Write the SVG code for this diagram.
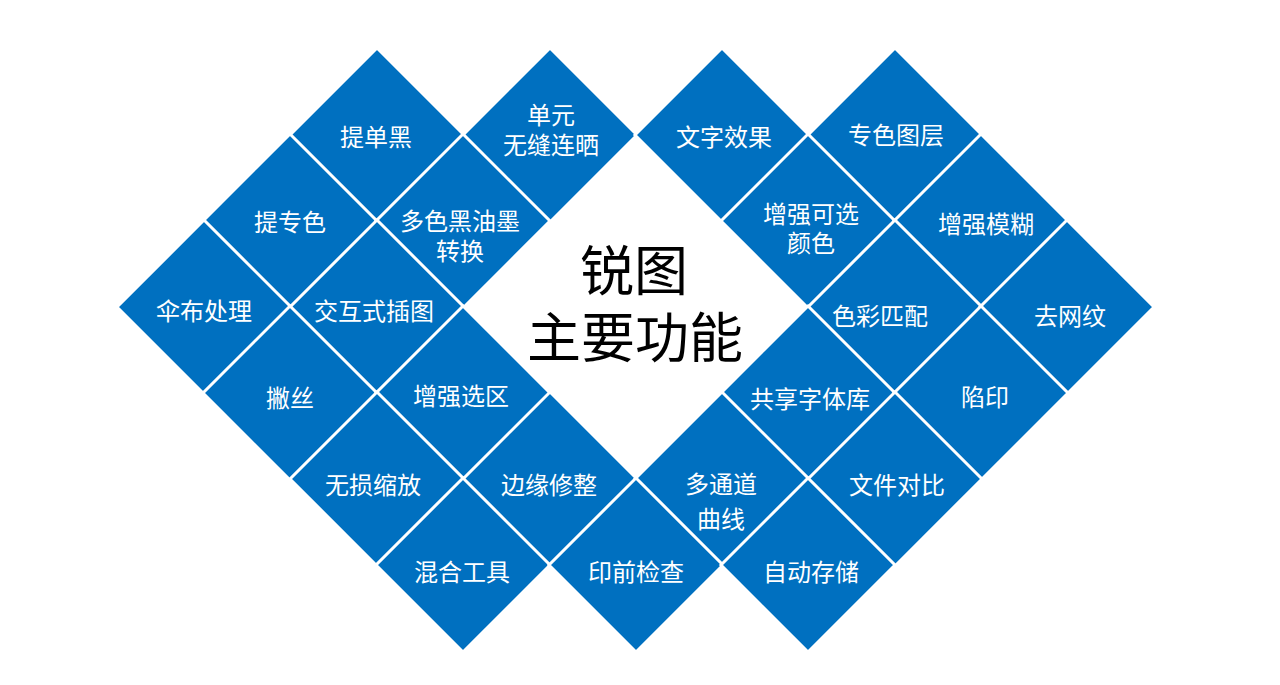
<svg xmlns="http://www.w3.org/2000/svg" width="1280" height="685" viewBox="0 0 1280 685">
<defs>
<style>
.d{fill:#0070C0;stroke:#FFFFFF;stroke-width:3;stroke-linejoin:miter}
.t{font-family:"Noto Sans CJK SC","Microsoft YaHei",sans-serif;font-size:24px;fill:#FFFFFF;text-anchor:middle;dominant-baseline:central}
.title{font-family:"Noto Sans CJK SC",sans-serif;font-size:54px;fill:#000000;text-anchor:middle;dominant-baseline:central}
</style>
<polygon id="dia" points="0,-87 87,0 0,87 -87,0"/>
</defs>
<rect width="1280" height="685" fill="#FFFFFF"/>
<g id="connectors"/>
<g id="n1" transform="translate(377,135)"><use href="#dia" class="d"/></g>
<g id="n2" transform="translate(550,135)"><use href="#dia" class="d"/></g>
<g id="n3" transform="translate(722,135)"><use href="#dia" class="d"/></g>
<g id="n4" transform="translate(895,135)"><use href="#dia" class="d"/></g>
<g id="n5" transform="translate(290,221)"><use href="#dia" class="d"/></g>
<g id="n6" transform="translate(463,221)"><use href="#dia" class="d"/></g>
<g id="n7" transform="translate(808,221)"><use href="#dia" class="d"/></g>
<g id="n8" transform="translate(981,221)"><use href="#dia" class="d"/></g>
<g id="n9" transform="translate(204,307)"><use href="#dia" class="d"/></g>
<g id="n10" transform="translate(377,307)"><use href="#dia" class="d"/></g>
<g id="n11" transform="translate(895,307)"><use href="#dia" class="d"/></g>
<g id="n12" transform="translate(1067,307)"><use href="#dia" class="d"/></g>
<g id="n13" transform="translate(290,393)"><use href="#dia" class="d"/></g>
<g id="n14" transform="translate(463,393)"><use href="#dia" class="d"/></g>
<g id="n15" transform="translate(808,393)"><use href="#dia" class="d"/></g>
<g id="n16" transform="translate(981,393)"><use href="#dia" class="d"/></g>
<g id="n17" transform="translate(377,479)"><use href="#dia" class="d"/></g>
<g id="n18" transform="translate(550,479)"><use href="#dia" class="d"/></g>
<g id="n19" transform="translate(722,479)"><use href="#dia" class="d"/></g>
<g id="n20" transform="translate(895,479)"><use href="#dia" class="d"/></g>
<g id="n21" transform="translate(463,565)"><use href="#dia" class="d"/></g>
<g id="n22" transform="translate(636,565)"><use href="#dia" class="d"/></g>
<g id="n23" transform="translate(808,565)"><use href="#dia" class="d"/></g>
<g id="labels">
<text class="t" x="376" y="135.5">提单黑</text>
<text class="t"><tspan x="551" y="112.5">单元</tspan><tspan x="551" y="142.5">无缝连晒</tspan></text>
<text class="t" x="724" y="135.5">文字效果</text>
<text class="t" x="896" y="133.5">专色图层</text>
<text class="t" x="290" y="220.5">提专色</text>
<text class="t"><tspan x="460" y="218.5">多色黑油墨</tspan><tspan x="460" y="248.5">转换</tspan></text>
<text class="t"><tspan x="811" y="211.5">增强可选</tspan><tspan x="811" y="240.5">颜色</tspan></text>
<text class="t" x="986" y="222.5">增强模糊</text>
<text class="t" x="204" y="309.5">伞布处理</text>
<text class="t" x="374" y="309.5">交互式插图</text>
<text class="t" x="880" y="314.5">色彩匹配</text>
<text class="t" x="1070" y="314.5">去网纹</text>
<text class="t" x="290" y="396.5">撇丝</text>
<text class="t" x="461" y="394.5">增强选区</text>
<text class="t" x="810" y="397.5">共享字体库</text>
<text class="t" x="985" y="395.5">陷印</text>
<text class="t" x="373" y="483.5">无损缩放</text>
<text class="t" x="549" y="483.5">边缘修整</text>
<text class="t"><tspan x="721" y="481.5">多通道</tspan><tspan x="721" y="516.5">曲线</tspan></text>
<text class="t" x="897" y="483.5">文件对比</text>
<text class="t" x="462" y="570.5">混合工具</text>
<text class="t" x="636" y="570.5">印前检查</text>
<text class="t" x="811" y="570.5">自动存储</text>
</g>
<g id="title">
<text class="title"><tspan x="634" y="267">锐图</tspan><tspan x="635" y="334">主要功能</tspan></text>
</g>
</svg>
